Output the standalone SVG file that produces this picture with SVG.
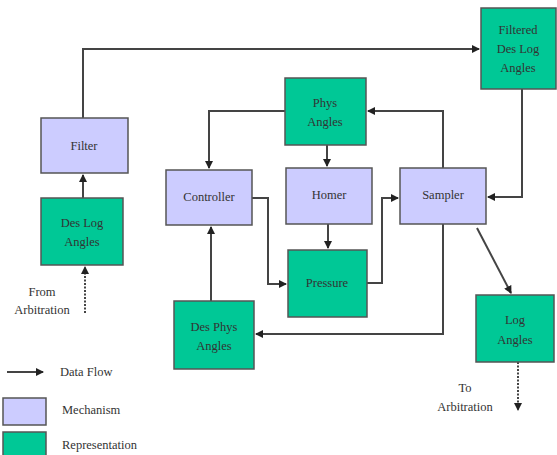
<svg xmlns="http://www.w3.org/2000/svg" width="557" height="455" viewBox="0 0 557 455">
<defs>
<style>
.mech{fill:#CCCCFF;stroke:#555;stroke-width:1.5}
.rep{fill:#00C896;stroke:#555;stroke-width:1.5}
text{font-family:"Times New Roman","Liberation Serif",Times,"DejaVu Serif",serif;font-size:12.5px;fill:#333;text-anchor:middle}
.c{fill:none;stroke:#444;stroke-width:2}
.d{fill:none;stroke:#444;stroke-width:2;stroke-dasharray:2,1.5}
</style>
<marker id="ah" markerWidth="8" markerHeight="8" refX="7" refY="4" orient="auto" markerUnits="userSpaceOnUse">
<path d="M0,0 L8,4 L0,8 z" fill="#222"/>
</marker>
</defs>
<rect width="557" height="455" fill="#fff"/>
<g id="connectors">
<path class="c" d="M83,118 V49 H479" marker-end="url(#ah)"/>
<path class="c" d="M83,198 V175" marker-end="url(#ah)"/>
<path class="d" d="M85,313 V267" marker-end="url(#ah)"/>
<path class="c" d="M285,111 H209 V168" marker-end="url(#ah)"/>
<path class="c" d="M327,145 V166" marker-end="url(#ah)"/>
<path class="c" d="M443,168 V111 H368" marker-end="url(#ah)"/>
<path class="c" d="M522,89 V197 H488" marker-end="url(#ah)"/>
<path class="c" d="M328,224 V248" marker-end="url(#ah)"/>
<path class="c" d="M252,198 H268 V284 H286" marker-end="url(#ah)"/>
<path class="c" d="M367,283 H382 V198 H398" marker-end="url(#ah)"/>
<path class="c" d="M211,301 V227" marker-end="url(#ah)"/>
<path class="c" d="M443,224 V334 H256" marker-end="url(#ah)"/>
<path class="c" d="M477,228 L511,293" marker-end="url(#ah)"/>
<path class="d" d="M518,362 V410" marker-end="url(#ah)"/>
<path class="c" d="M7,372 H43" marker-end="url(#ah)"/>
</g>
<g id="filter"><rect class="mech" x="41" y="118" width="87" height="55"/><text x="84" y="150">Filter</text></g>
<g id="des-log-angles"><rect class="rep" x="41" y="198" width="82" height="67"/><text x="82" y="227">Des Log</text><text x="82" y="246">Angles</text></g>
<g id="filtered-des-log-angles"><rect class="rep" x="481" y="8" width="75" height="81"/><text x="518" y="34">Filtered</text><text x="518" y="53">Des Log</text><text x="518" y="72">Angles</text></g>
<g id="phys-angles"><rect class="rep" x="285" y="78" width="81" height="67"/><text x="325" y="107">Phys</text><text x="325" y="126">Angles</text></g>
<g id="controller"><rect class="mech" x="166" y="170" width="86" height="55"/><text x="209" y="201">Controller</text></g>
<g id="homer"><rect class="mech" x="286" y="168" width="86" height="56"/><text x="329" y="199">Homer</text></g>
<g id="sampler"><rect class="mech" x="400" y="168" width="86" height="56"/><text x="443" y="199">Sampler</text></g>
<g id="pressure"><rect class="rep" x="288" y="250" width="79" height="67"/><text x="327" y="287">Pressure</text></g>
<g id="des-phys-angles"><rect class="rep" x="174" y="301" width="80" height="68"/><text x="214" y="331">Des Phys</text><text x="214" y="350">Angles</text></g>
<g id="log-angles"><rect class="rep" x="476" y="295" width="78" height="67"/><text x="515" y="324">Log</text><text x="515" y="344">Angles</text></g>
<g id="labels">
<text x="42" y="296">From</text><text x="42" y="314">Arbitration</text>
<text x="465" y="392">To</text><text x="465" y="411">Arbitration</text>
</g>
<g id="legend">
<text x="60" y="376" style="text-anchor:start">Data Flow</text>
<rect class="mech" x="3" y="398" width="43" height="27"/>
<text x="62" y="414" style="text-anchor:start">Mechanism</text>
<rect class="rep" x="3" y="432" width="43" height="25"/>
<text x="62" y="449" style="text-anchor:start">Representation</text>
</g>
</svg>
